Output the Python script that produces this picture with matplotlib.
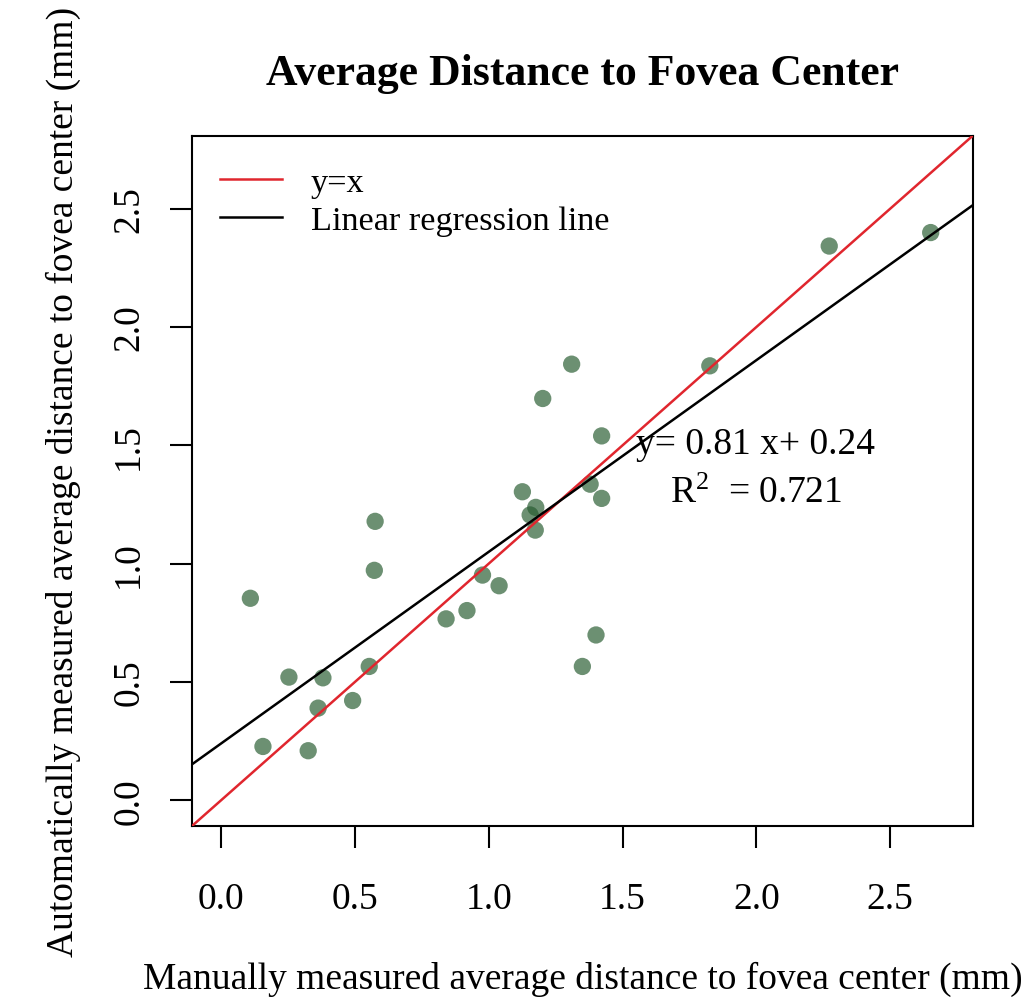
import matplotlib
matplotlib.use("Agg")
import matplotlib.pyplot as plt
import numpy as np

plt.rcParams['font.family'] = ['Liberation Serif', 'DejaVu Serif']
plt.rcParams['mathtext.fontset'] = 'custom'
plt.rcParams['mathtext.rm'] = 'Liberation Serif'
plt.rcParams['mathtext.it'] = 'Liberation Serif:italic'

manual = [0.110, 0.157, 0.254, 0.326, 0.363, 0.381, 0.492, 0.554, 0.573, 0.576,
          0.841, 0.919, 0.977, 1.039, 1.126, 1.155, 1.176, 1.174, 1.202, 1.310,
          1.350, 1.401, 1.379, 1.422, 1.422, 1.826, 2.272, 2.651]
auto = [0.854, 0.228, 0.521, 0.210, 0.390, 0.518, 0.422, 0.566, 0.972, 1.179,
        0.767, 0.802, 0.952, 0.907, 1.304, 1.206, 1.238, 1.142, 1.698, 1.843,
        0.566, 0.699, 1.336, 1.276, 1.540, 1.836, 2.342, 2.399]
slope, intercept = 0.81, 0.24
r2 = 0.721
ticks = [0.0, 0.5, 1.0, 1.5, 2.0, 2.5]
lim = (-0.108, 2.808)

fig = plt.figure(figsize=(10.30, 10.04), dpi=100)
ax = fig.add_axes([0.1864, 0.1763, 0.9444 - 0.1864, 0.8638 - 0.1763])
ax.set_xlim(lim)
ax.set_ylim(lim)

xx = np.array(lim)
ax.plot(xx, xx, color='#e0262e', lw=1.8, label='y=x', zorder=3)
ax.plot(xx, slope * xx + intercept, color='black', lw=1.8,
        label='Linear regression line', zorder=3)
ax.scatter(manual, auto, s=155, color='#275b30', alpha=0.68, edgecolors='none', zorder=2)

ax.set_xticks(ticks)
ax.set_yticks(ticks)
ax.set_xticklabels([f"{t:.1f}" for t in ticks])
ax.set_yticklabels([f"{t:.1f}" for t in ticks], rotation=90, va='center')
ax.tick_params(direction='out', length=16, width=1.5, labelsize=27, pad=24)
ax.tick_params(axis='y', pad=17)
for sp in ax.spines.values():
    sp.set_linewidth(1.5)

ax.set_title('Average Distance to Fovea Center', fontsize=31.5, fontweight='bold', pad=37)
ax.set_xlabel('Manually measured average distance to fovea center (mm)', fontsize=27, labelpad=32)
ax.set_ylabel('Automatically measured average distance to fovea center (mm)', fontsize=27, labelpad=22)

leg = ax.legend(loc='upper left', frameon=False, fontsize=24.7, handlelength=1.8,
                handletextpad=0.85, borderaxespad=0.0, bbox_to_anchor=(0.018, 0.975),
                labelspacing=0.2)

ax.text(1.998, 1.505, f"y= {slope:.2f} x+ {intercept:.2f}", fontsize=27,
        ha='center', va='center', zorder=4)
ax.text(1.998, 1.30, f"R$^{{2}}$  = {r2:.3f}", fontsize=27,
        ha='center', va='center', zorder=4)

fig.savefig('out.png', dpi=100)
